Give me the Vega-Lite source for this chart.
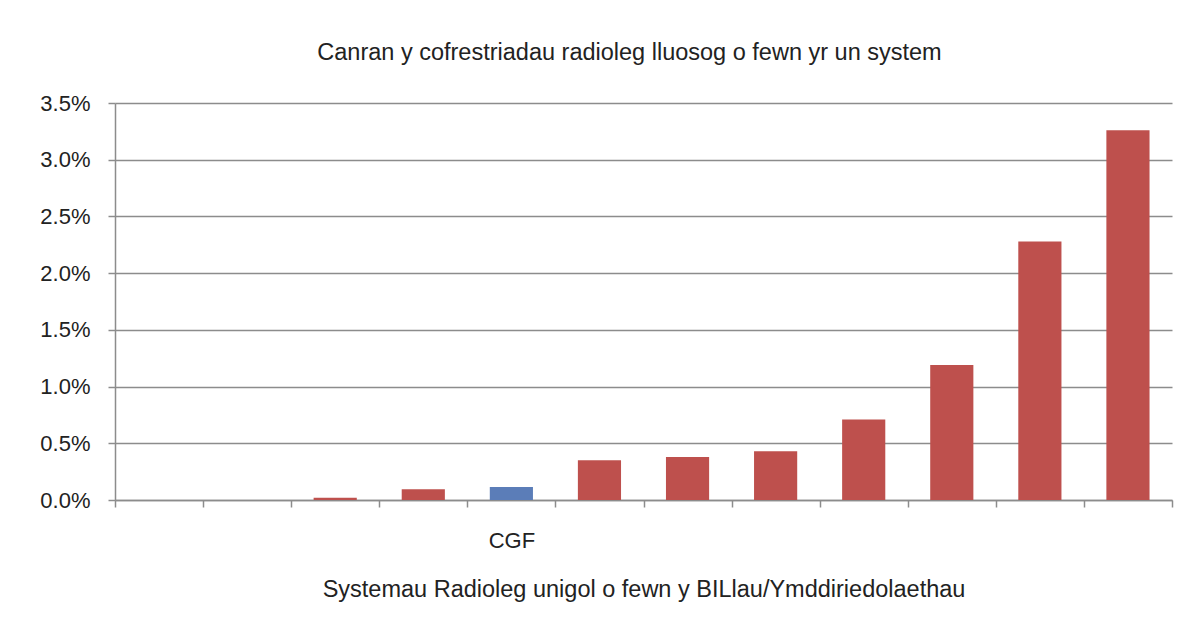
{
  "$schema": "https://vega.github.io/schema/vega-lite/v6.json",
  "width": 1057,
  "height": 397,
  "autosize": {"type": "none"},
  "padding": {"left": 115, "top": 103, "right": 17, "bottom": 135},
  "background": "#ffffff",
  "title": {
    "text": "Canran y cofrestriadau radioleg lluosog o fewn yr un system",
    "anchor": "middle",
    "offset": 28,
    "dx": -14,
    "font": "Liberation Sans",
    "fontSize": 23.5,
    "fontWeight": "normal",
    "color": "#222222"
  },
  "data": {
    "values": [
      {"system": "S1", "pct": 0.0, "group": "other"},
      {"system": "S2", "pct": 0.0, "group": "other"},
      {"system": "S3", "pct": 0.0002, "group": "other"},
      {"system": "S4", "pct": 0.00095, "group": "other"},
      {"system": "CGF", "pct": 0.00115, "group": "CGF"},
      {"system": "S6", "pct": 0.0035, "group": "other"},
      {"system": "S7", "pct": 0.0038, "group": "other"},
      {"system": "S8", "pct": 0.0043, "group": "other"},
      {"system": "S9", "pct": 0.0071, "group": "other"},
      {"system": "S10", "pct": 0.0119, "group": "other"},
      {"system": "S11", "pct": 0.0228, "group": "other"},
      {"system": "S12", "pct": 0.0326, "group": "other"}
    ]
  },
  "mark": {"type": "bar", "width": {"band": 0.49}},
  "encoding": {
    "x": {
      "field": "system",
      "type": "nominal",
      "sort": null,
      "scale": {"paddingInner": 0, "paddingOuter": 0},
      "axis": {
        "title": "Systemau Radioleg unigol o fewn y BILlau/Ymddiriedolaethau",
        "titleFont": "Liberation Sans",
        "titleFontSize": 23.5,
        "titleFontWeight": "normal",
        "titleColor": "#222222",
        "titlePadding": 26,
        "labelExpr": "datum.value == 'CGF' ? 'CGF' : ''",
        "labelAngle": 0,
        "labelFont": "Liberation Sans",
        "labelFontSize": 22,
        "labelColor": "#222222",
        "labelPadding": 23,
        "tickBand": "extent",
        "tickSize": 7,
        "tickColor": "#8c8c8c",
        "tickWidth": 1.5,
        "domainColor": "#8c8c8c",
        "domainWidth": 1.5,
        "grid": false
      }
    },
    "y": {
      "field": "pct",
      "type": "quantitative",
      "scale": {"domain": [0, 0.035]},
      "axis": {
        "title": null,
        "values": [0, 0.005, 0.01, 0.015, 0.02, 0.025, 0.03, 0.035],
        "format": ".1%",
        "labelFont": "Liberation Sans",
        "labelFontSize": 22,
        "labelColor": "#222222",
        "labelPadding": 18,
        "tickSize": 7,
        "tickColor": "#8c8c8c",
        "tickWidth": 1.5,
        "domainColor": "#8c8c8c",
        "domainWidth": 1.5,
        "grid": true,
        "gridColor": "#8c8c8c",
        "gridWidth": 1.5
      }
    },
    "color": {
      "field": "group",
      "type": "nominal",
      "scale": {"domain": ["other", "CGF"], "range": ["#BE504D", "#5B7DB8"]},
      "legend": null
    }
  },
  "config": {"view": {"stroke": null}}
}
